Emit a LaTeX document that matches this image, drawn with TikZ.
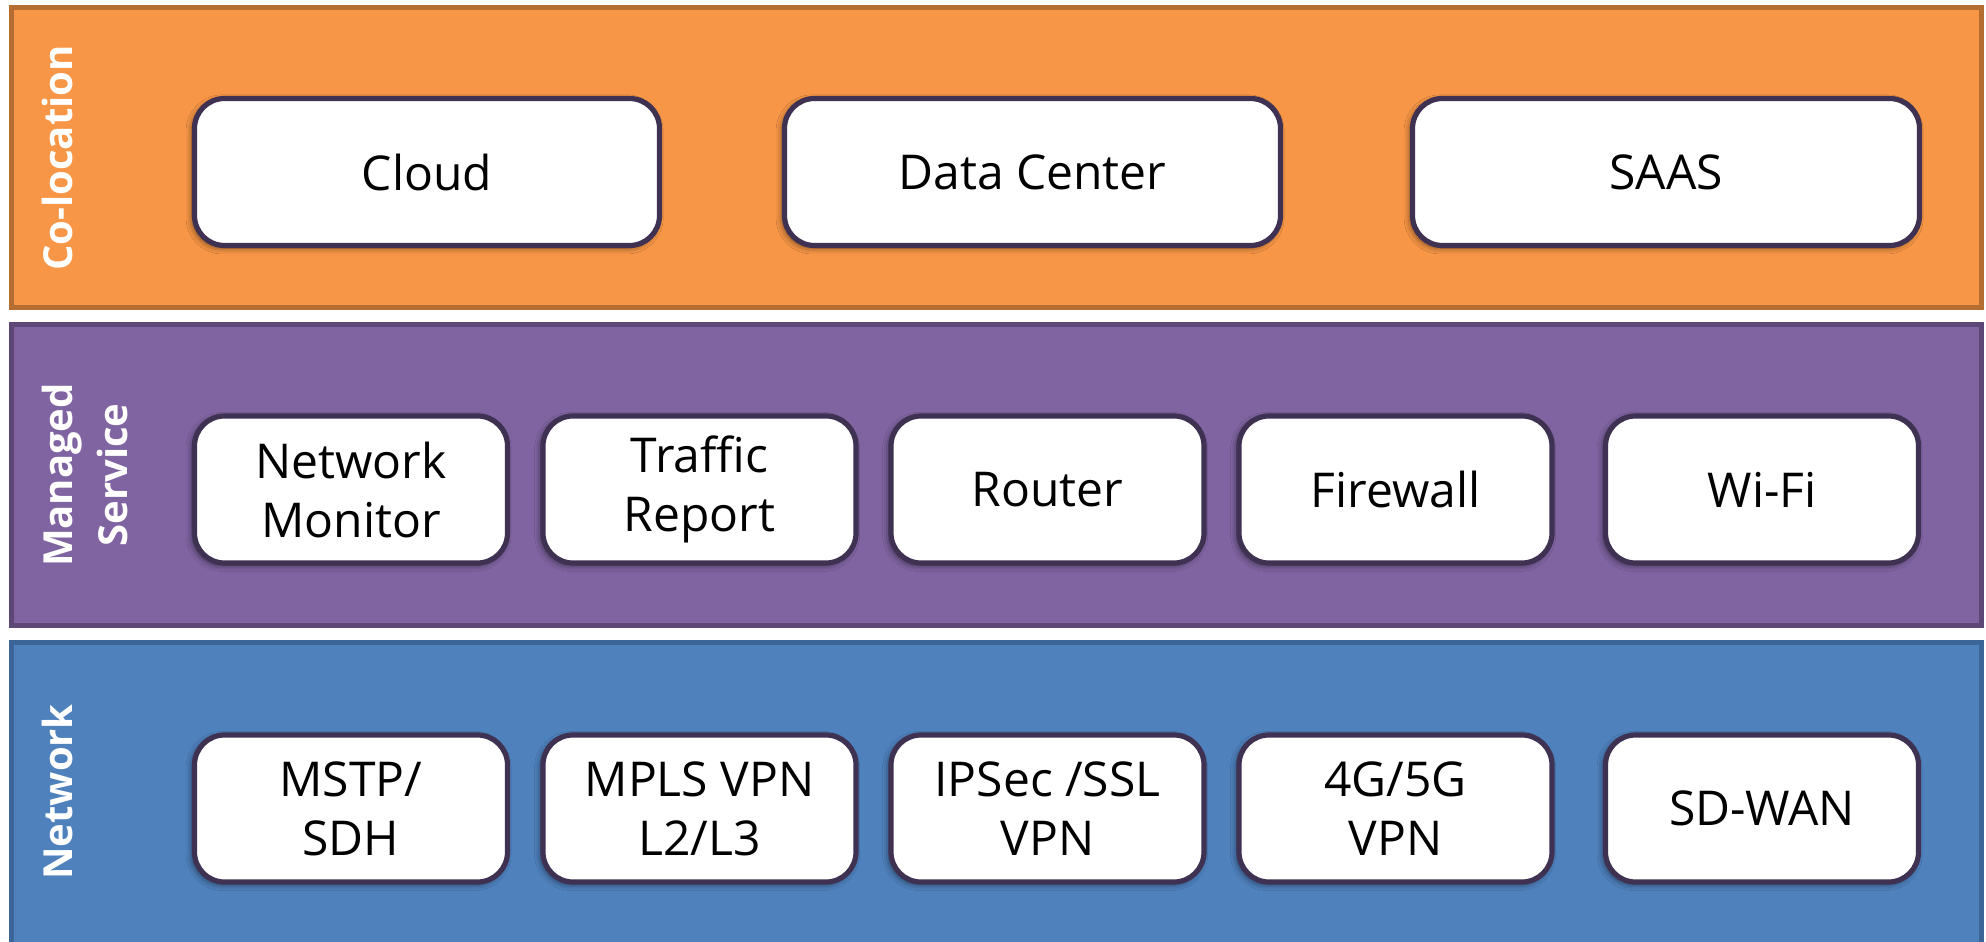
\documentclass[tikz,border=0pt]{standalone}
\usepackage{fontspec}
\setmainfont{Open Sans}
\usetikzlibrary{shadows.blur}
\definecolor{orangefill}{HTML}{F79646}
\definecolor{orangeline}{HTML}{B66D31}
\definecolor{purplefill}{HTML}{8064A2}
\definecolor{purpleline}{HTML}{5C4776}
\definecolor{bluefill}{HTML}{4F81BD}
\definecolor{blueline}{HTML}{3C6597}
\definecolor{boxline}{HTML}{3F3151}
\tikzset{
  band/.style={line width=2.5pt},
  item/.style={draw=boxline, line width=2.6pt, fill=white, rounded corners=15pt,
    minimum height=73.5pt, inner sep=0pt, align=center,
    font=\fontsize{24}{29.5}\selectfont,
    blur shadow={shadow xshift=-1.2pt, shadow yshift=-1.2pt, shadow blur radius=3pt, shadow opacity=55}},
  narrow/.style={minimum width=156.5pt},
  sidelabel/.style={rotate=90, text=white, align=center, inner sep=0pt,
    font=\bfseries\fontsize{20}{27.5}\selectfont}
}
\begin{document}
\begin{tikzpicture}[x=0.5pt,y=-0.5pt]
\useasboundingbox (0,0) rectangle (1986,942);
\clip (0,0) rectangle (1986,942);
% bands
\draw[band, fill=orangefill, draw=orangeline] (11.5,7.5) rectangle (1981.5,307.5);
\draw[band, fill=purplefill, draw=purpleline] (11.5,324.5) rectangle (1981.5,625.5);
\draw[band, fill=bluefill, draw=blueline] (11.5,642.5) rectangle (1981.5,960);
% side labels
\node[sidelabel] (colo) at (57,158) {Co-location};
\node[sidelabel] (managed) at (85,475) {Managed\\Service};
\node[sidelabel] (network) at (57,792) {Network};
% top row
\node[item, minimum width=232.5pt] (cloud) at (427,172) {Cloud};
\node[item, minimum width=248pt] (dc) at (1032.5,172) {Data Center};
\node[item, minimum width=253.5pt] (saas) at (1666,172) {SAAS};
% middle row
\node[item, narrow] (nm) at (351,489.5) {Network\\Monitor};
\node[item, narrow] (tr) at (699.5,489.5) {Traffic\\Report};
\node[item, narrow] (router) at (1047.5,489.5) {Router};
\node[item, narrow] (fw) at (1395.5,489.5) {Firewall};
\node[item, narrow] (wifi) at (1762,489.5) {Wi-Fi};
% bottom row
\node[item, narrow] (mstp) at (351,808.5) {MSTP/\\SDH};
\node[item, narrow] (mpls) at (699.5,808.5) {MPLS VPN\\L2/L3};
\node[item, narrow] (ipsec) at (1047.5,808.5) {IPSec /SSL\\VPN};
\node[item, narrow] (g45) at (1395.5,808.5) {4G/5G\\VPN};
\node[item, narrow] (sdwan) at (1762,808.5) {SD-WAN};
\end{tikzpicture}
\end{document}
